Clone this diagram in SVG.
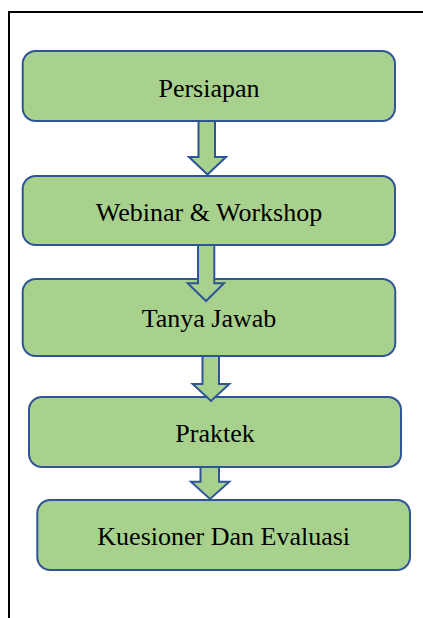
<svg xmlns="http://www.w3.org/2000/svg" width="423" height="618" viewBox="0 0 423 618">
<style>
.box{fill:#A9D18E;stroke:#2F5597;stroke-width:2}
.arr{fill:#A9D18E;stroke:#2F5597;stroke-width:2;stroke-linejoin:miter}
.lbl{font-family:'Liberation Serif','DejaVu Serif',serif;font-size:26px;fill:#000;text-anchor:middle}
</style>
<rect width="423" height="618" fill="#fff"/>
<path d="M9,618 V12 H423" fill="none" stroke="#000" stroke-width="2"/>
<g id="n1"><rect class="box" x="22.7" y="51" width="372.3" height="70" rx="13"/><text class="lbl" x="209" y="97">Persiapan</text></g>
<g id="n2"><rect class="box" x="22.7" y="176" width="372.3" height="69" rx="13"/><text class="lbl" x="209" y="221">Webinar &amp; Workshop</text></g>
<g id="n3"><rect class="box" x="22.7" y="279" width="372.6" height="77" rx="13"/><text class="lbl" x="209" y="327">Tanya Jawab</text></g>
<g id="n4"><rect class="box" x="29" y="397" width="372" height="70" rx="13"/><text class="lbl" x="215" y="442">Praktek</text></g>
<g id="n5"><rect class="box" x="37.3" y="500" width="372.7" height="70" rx="13"/><text class="lbl" x="223.7" y="545">Kuesioner Dan Evaluasi</text></g>
<g id="connectors">
<polygon class="arr" points="198.5,121 215,121 215,157 226,157 207.5,174.5 189,157 198.5,157"/>
<polygon class="arr" points="198,245 214.3,245 214.3,283.3 224,283.3 206,301 187.7,283.3 198,283.3"/>
<polygon class="arr" points="202.5,356 219,356 219,384 229.3,384 211,401 192.7,384 202.5,384"/>
<polygon class="arr" points="200.5,467 219,467 219,481.7 229.3,481.7 210,499 191,481.7 200.5,481.7"/>
</g>
</svg>
